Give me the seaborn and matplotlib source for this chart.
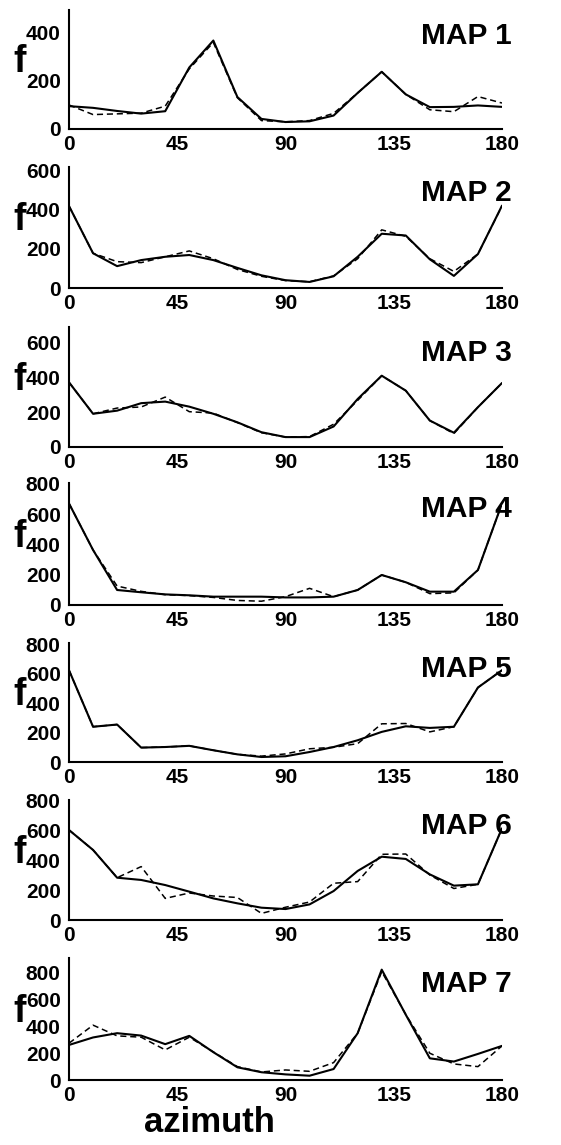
import matplotlib
matplotlib.use('Agg')
import matplotlib.pyplot as plt
import seaborn as sns
import pandas as pd

# azimuth samples (degrees)
azimuth = [0, 10, 20, 30, 40, 50, 60, 70, 80, 90, 100, 110, 120, 130, 140, 150, 160, 170, 180]

# solid = full line, dashed = broken line
map1_solid = [95, 88, 75, 64, 74, 256, 368, 133, 42, 29, 32, 56, 150, 238, 144, 91, 92, 98, 92]
map1_dashed = [100, 60, 63, 66, 95, 250, 360, 130, 35, 30, 35, 65, 150, 238, 144, 80, 72, 135, 108]

map2_solid = [420, 178, 112, 143, 160, 169, 143, 103, 65, 40, 31, 60, 160, 278, 269, 147, 62, 174, 422]
map2_dashed = [420, 178, 135, 130, 160, 190, 150, 95, 60, 38, 32, 62, 150, 298, 265, 150, 85, 174, 420]

map3_solid = [372, 191, 209, 252, 261, 232, 191, 142, 85, 57, 57, 118, 276, 410, 324, 152, 82, 229, 368]
map3_dashed = [372, 191, 224, 230, 287, 203, 195, 140, 82, 57, 60, 131, 268, 410, 324, 152, 77, 229, 368]

map4_solid = [670, 363, 99, 84, 70, 64, 55, 55, 55, 50, 50, 55, 99, 198, 150, 88, 88, 231, 670]
map4_dashed = [670, 363, 125, 90, 68, 62, 50, 30, 25, 55, 110, 55, 99, 198, 150, 75, 80, 231, 670]

map5_solid = [625, 240, 255, 98, 102, 110, 80, 52, 34, 39, 68, 102, 148, 205, 243, 232, 240, 507, 625]
map5_dashed = [625, 240, 255, 98, 102, 110, 80, 52, 40, 55, 90, 100, 125, 260, 262, 205, 240, 507, 625]

map6_solid = [600, 467, 282, 267, 233, 189, 144, 111, 82, 73, 104, 193, 327, 422, 407, 304, 229, 238, 611]
map6_dashed = [600, 467, 282, 356, 144, 180, 160, 150, 44, 85, 120, 245, 256, 438, 440, 300, 210, 238, 611]

map7_solid = [262, 318, 350, 332, 268, 330, 208, 95, 58, 42, 32, 82, 350, 825, 488, 162, 138, 195, 255]
map7_dashed = [275, 410, 330, 320, 225, 320, 210, 100, 60, 75, 65, 130, 350, 810, 490, 200, 120, 100, 255]

panel_titles = ['MAP 1', 'MAP 2', 'MAP 3', 'MAP 4', 'MAP 5', 'MAP 6', 'MAP 7']
solid_series = [map1_solid, map2_solid, map3_solid, map4_solid, map5_solid, map6_solid, map7_solid]
dashed_series = [map1_dashed, map2_dashed, map3_dashed, map4_dashed, map5_dashed, map6_dashed, map7_dashed]
y_tops = [495, 620, 690, 805, 810, 800, 912]
y_ticks = [[0, 200, 400], [0, 200, 400, 600], [0, 200, 400, 600],
           [0, 200, 400, 600, 800], [0, 200, 400, 600, 800],
           [0, 200, 400, 600, 800], [0, 200, 400, 600, 800]]
x_ticks = [0, 45, 90, 135, 180]

sns.set_style('white')
plt.rcParams['font.family'] = ['Liberation Sans', 'DejaVu Sans']
plt.rcParams['font.weight'] = 'bold'
plt.rcParams['text.color'] = 'black'
plt.rcParams['xtick.color'] = 'black'
plt.rcParams['ytick.color'] = 'black'
plt.rcParams['axes.labelcolor'] = 'black'

W, H = 561, 1145
fig = plt.figure(figsize=(W / 100, H / 100), dpi=100)

# pixel boxes of each panel (top, bottom)
left_px, right_px = 69, 502
tops_px = [10, 167, 327, 483, 643, 800, 958]
bottoms_px = [129, 288, 447, 605, 762, 920, 1080]

for i in range(7):
    top, bottom = tops_px[i], bottoms_px[i]
    ax = fig.add_axes([left_px / W, 1 - bottom / H, (right_px - left_px) / W, (bottom - top) / H])

    df = pd.DataFrame({'azimuth': azimuth, 'solid': solid_series[i], 'dashed': dashed_series[i]})
    sns.lineplot(data=df, x='azimuth', y='dashed', ax=ax, color='black', linewidth=1.1,
                 linestyle=(0, (4, 2.5)))
    sns.lineplot(data=df, x='azimuth', y='solid', ax=ax, color='black', linewidth=1.5)

    ax.set_xlim(0, 180)
    ax.set_ylim(0, y_tops[i])
    ax.set_xticks(x_ticks)
    ax.set_yticks(y_ticks[i])
    ax.tick_params(axis='both', length=0, labelsize=15, pad=4, colors='black')
    ax.tick_params(axis='y', pad=6)
    for lab in ax.get_xticklabels() + ax.get_yticklabels():
        lab.set_fontweight('bold')
    ax.set_xlabel('')
    ax.set_ylabel('')
    sns.despine(ax=ax)
    for side in ['left', 'bottom']:
        ax.spines[side].set_color('black')
        ax.spines[side].set_linewidth(1.5)

    ax.text(1.023, 0.9, panel_titles[i], transform=ax.transAxes, ha='right', va='top',
            fontsize=21.5, fontweight='bold', color='black')
    ax.text(-0.115, 0.56, 'f', transform=ax.transAxes, ha='center', va='center',
            fontsize=27, fontweight='bold', color='black')

fig.text(209 / W, 1 - 1123 / H, 'azimuth', ha='center', va='center', fontsize=25,
         fontweight='bold', color='black')

fig.savefig('out.png', dpi=100)
